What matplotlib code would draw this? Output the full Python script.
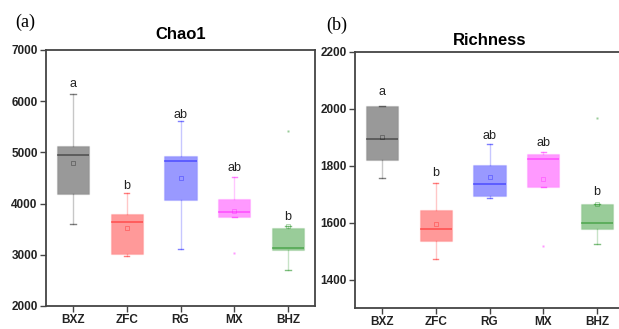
import matplotlib
matplotlib.use("Agg")
import matplotlib.pyplot as plt
from matplotlib.colors import to_rgba

groups = ["BXZ", "ZFC", "RG", "MX", "BHZ"]
colors = ["#000000", "#ff0000", "#0000ff", "#ff00ff", "#008000"]

# Chao1
chao_whislo = [3595, 2970, 3113, 3745, 2697]
chao_q1 = [4181, 3010, 4070, 3745, 3088]
chao_med = [4943, 3641, 4826, 3836, 3139]
chao_q3 = [5125, 3803, 4930, 4090, 3518]
chao_whishi = [6141, 4200, 5620, 4520, 3570]
chao_mean = [4800, 3530, 4506, 3862, 3570]
chao_fliers = [[], [], [], [3041], [5412]]
chao_letters = ["a", "b", "ab", "ab", "b"]
chao_letter_y = [6330, 4350, 5725, 4700, 3730]

# Richness
rich_whislo = [1757, 1472, 1687, 1724, 1526]
rich_q1 = [1821, 1536, 1695, 1724, 1579]
rich_med = [1895, 1576, 1736, 1825, 1600]
rich_q3 = [2009, 1643, 1804, 1840, 1667]
rich_whishi = [2011, 1739, 1876, 1847, 1667]
rich_mean = [1902, 1594, 1760, 1753, 1667]
rich_fliers = [[], [], [], [1519], [1969]]
rich_letters = ["a", "b", "ab", "ab", "b"]
rich_letter_y = [2059, 1773, 1903, 1880, 1709]

fig = plt.figure(figsize=(6.19, 3.29), dpi=100)
axA = fig.add_axes([46/619, 1-306/329, 269/619, 256/329])
axB = fig.add_axes([355/619, 1-308/329, 269/619, 256/329])


def draw(ax, wl, q1, med, q3, wh, mean, fliers, letters, ly, title, ylim, yticks, pad):
    for i in range(len(groups)):
        st = dict(whislo=wl[i], q1=q1[i], med=med[i], q3=q3[i], whishi=wh[i],
                  mean=mean[i], fliers=fliers[i], label=groups[i])
        c = colors[i]
        ax.bxp([st], positions=[i + 1], widths=0.6, patch_artist=True,
               showmeans=True, showfliers=True,
               boxprops=dict(facecolor=to_rgba(c, 0.4), edgecolor=to_rgba(c, 0.1), linewidth=1),
               medianprops=dict(color=to_rgba(c, 0.5), linewidth=1.1),
               whiskerprops=dict(color=to_rgba(c, 0.22), linewidth=1.0),
               capprops=dict(color=to_rgba(c, 0.5), linewidth=1.0),
               capwidths=0.1,
               meanprops=dict(marker="s", markersize=3, markerfacecolor="none",
                              markeredgecolor=to_rgba(c, 0.35), markeredgewidth=0.6),
               flierprops=dict(marker="s", markersize=2, markerfacecolor=to_rgba(c, 0.4),
                               markeredgecolor="none"))
        ax.text(i + 1, ly[i], letters[i], ha="center", va="center", fontsize=9,
                family="Liberation Sans", color="#222222")
    ax.set_xlim(0.5, 5.5)
    ax.set_ylim(*ylim)
    ax.set_yticks(yticks)
    ax.set_xticks(range(1, 6))
    ax.set_xticklabels(groups)
    for lab in ax.get_xticklabels() + ax.get_yticklabels():
        lab.set_fontweight("bold")
        lab.set_fontsize(8.5)
        lab.set_family("Liberation Sans")
        lab.set_color("#222222")
    ax.tick_params(direction="out", length=4, width=1, color="#444444", pad=2)
    for s in ax.spines.values():
        s.set_linewidth(1.3)
        s.set_color("#444444")
    ax.set_title(title, fontsize=12, fontweight="bold", family="Liberation Sans", pad=pad)


draw(axA, chao_whislo, chao_q1, chao_med, chao_q3, chao_whishi, chao_mean, chao_fliers,
     chao_letters, chao_letter_y, "Chao1", (2000, 7000), range(2000, 7001, 1000), 8)
draw(axB, rich_whislo, rich_q1, rich_med, rich_q3, rich_whishi, rich_mean, rich_fliers,
     rich_letters, rich_letter_y, "Richness", (1300, 2200), range(1400, 2201, 200), 5)

fig.text(15/619, 1-22/329, "(a)", fontsize=13, family="Liberation Serif", va="center", ha="left")
fig.text(326/619, 1-25/329, "(b)", fontsize=13, family="Liberation Serif", va="center", ha="left")

fig.savefig("out.png", dpi=100)
